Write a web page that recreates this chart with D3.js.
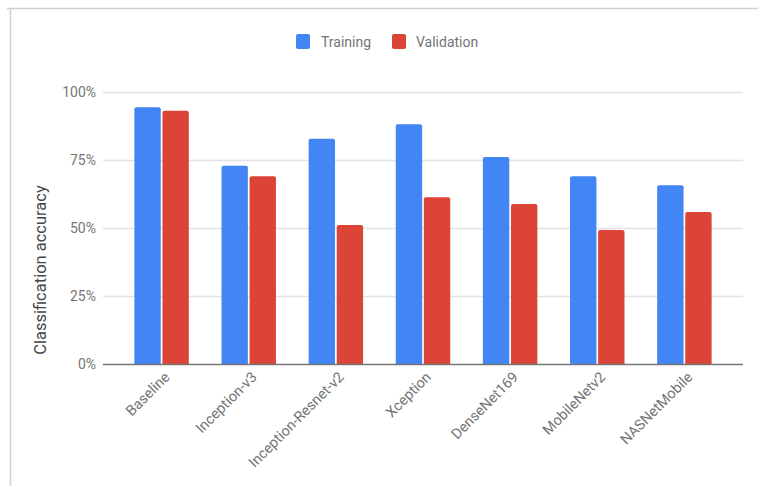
<!DOCTYPE html>
<html>
<head>
<meta charset="utf-8">
<script src="https://cdn.jsdelivr.net/npm/d3@7"></script>
<style>
  html, body { margin: 0; padding: 0; background: #fff; }
  svg { display: block; }
</style>
</head>
<body>
<svg id="chart" width="758" height="486"></svg>
<script>
const categories = ["Baseline", "Inception-v3", "Inception-Resnet-v2", "Xception", "DenseNet169", "MobileNetv2", "NASNetMobile"];
const seriesNames = ["Training", "Validation"];
const training = [94.4, 72.9, 82.8, 88.1, 76.1, 69.0, 65.7];
const validation = [93.1, 69.0, 51.1, 61.3, 58.8, 49.3, 55.9];
const yTicks = [0, 25, 50, 75, 100];
const colors = ["#4285F4", "#DB4437"];

(function () {
const svg = d3.select("#chart");
const font = "Roboto, Arial, sans-serif";

// frame
svg.append("line").attr("x1", 7).attr("x2", 758).attr("y1", 8.5).attr("y2", 8.5)
  .attr("stroke", "#d0d0d0").attr("stroke-width", 1.5);
svg.append("line").attr("x1", 10.5).attr("x2", 10.5).attr("y1", 8).attr("y2", 486)
  .attr("stroke", "#d0d0d0").attr("stroke-width", 1.5);

const pLeft = 103, pRight = 743, pTop = 92, pBottom = 364;
const x = d3.scaleBand().domain(categories).range([pLeft, pRight]).paddingInner(0.375).paddingOuter(0.36);
const xs = d3.scaleBand().domain(seriesNames).range([0, x.bandwidth()]).paddingInner(0.06);
const y = d3.scaleLinear().domain([0, 100]).range([pBottom, pTop]);

// gridlines
svg.append("g").selectAll("line").data(yTicks.filter(t => t > 0)).join("line")
  .attr("x1", pLeft).attr("x2", pRight)
  .attr("y1", d => Math.round(y(d)) + 0.5).attr("y2", d => Math.round(y(d)) + 0.5)
  .attr("stroke", "#e3e3e3").attr("stroke-width", 1.5);

// y axis labels via d3 axis
const yAxis = svg.append("g").attr("transform", `translate(${pLeft - 7},0)`)
  .call(d3.axisLeft(y).tickValues(yTicks).tickFormat(d => d + "%").tickSize(0).tickPadding(0));
yAxis.select(".domain").remove();
yAxis.selectAll("text").attr("font-family", font).attr("font-size", 14).attr("fill", "#757575");

// bars
const data = categories.map((c, i) => ({ cat: c, vals: [training[i], validation[i]] }));
const groups = svg.append("g").selectAll("g").data(data).join("g")
  .attr("transform", d => `translate(${x(d.cat)},0)`);
groups.selectAll("path").data(d => d.vals.map((v, j) => ({ v, s: seriesNames[j], j }))).join("path")
  .attr("fill", d => colors[d.j])
  .attr("d", d => {
    const x0 = xs(d.s), w = xs.bandwidth(), y0 = y(d.v), y1 = y(0), r = 2;
    return `M${x0},${y1}V${y0 + r}Q${x0},${y0} ${x0 + r},${y0}H${x0 + w - r}Q${x0 + w},${y0} ${x0 + w},${y0 + r}V${y1}Z`;
  });

// baseline
svg.append("line").attr("x1", pLeft).attr("x2", pRight).attr("y1", pBottom + 0.5).attr("y2", pBottom + 0.5)
  .attr("stroke", "#757575").attr("stroke-width", 1.5);

// x labels
const xAxis = svg.append("g").attr("transform", `translate(0,${pBottom})`)
  .call(d3.axisBottom(x).tickSize(0).tickPadding(0));
xAxis.select(".domain").remove();
xAxis.selectAll(".tick text")
  .attr("font-family", font).attr("font-size", 14.5).attr("fill", "#757575")
  .attr("text-anchor", "end").attr("dy", 0).attr("y", 0)
  .attr("transform", "translate(9,14) rotate(-45)");

// y title
svg.append("text").attr("transform", "translate(46,270) rotate(-90)")
  .attr("text-anchor", "middle").attr("font-family", font).attr("font-size", 16.5)
  .attr("fill", "#444").text("Classification accuracy");

// legend
const legend = [
  { name: "Training", sx: 296, tx: 321 },
  { name: "Validation", sx: 392, tx: 416 }
];
const lg = svg.append("g");
lg.selectAll("rect").data(legend).join("rect")
  .attr("x", d => d.sx).attr("y", 34).attr("width", 14).attr("height", 15).attr("rx", 2)
  .attr("fill", (d, i) => colors[i]);
lg.selectAll("text").data(legend).join("text")
  .attr("x", d => d.tx).attr("y", 46.5).attr("font-family", font).attr("font-size", 14)
  .attr("fill", "#757575").text(d => d.name);
})();
</script>
</body>
</html>
